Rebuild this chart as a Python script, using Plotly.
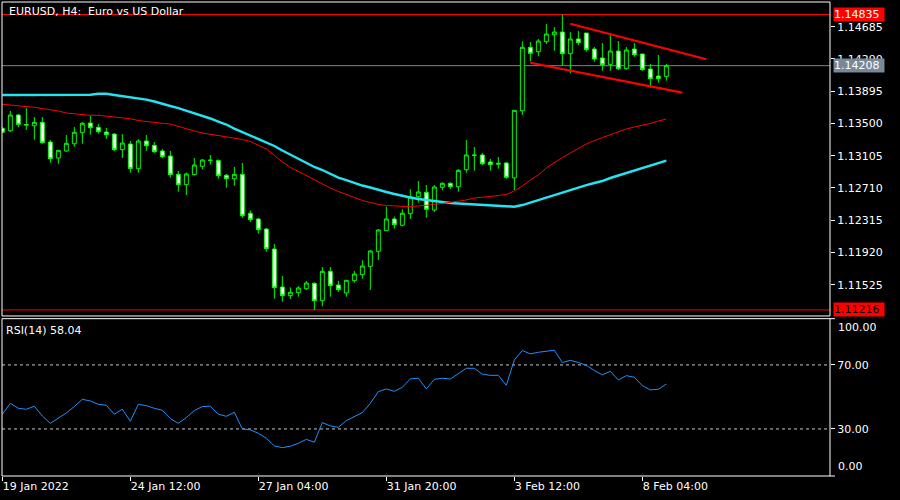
import plotly.graph_objects as go

# ---------------- data ----------------
bar_index = list(range(84))

opens = [1.13441, 1.13411, 1.13604, 1.13487, 1.13472, 1.13514, 1.13273, 1.13077, 1.13163, 1.13252,
         1.13387, 1.13505, 1.13453, 1.13395, 1.13370, 1.13179, 1.13248, 1.12946, 1.13285, 1.13232,
         1.13163, 1.13101, 1.12877, 1.12750, 1.12873, 1.12975, 1.13048, 1.13048, 1.12865, 1.12823,
         1.12877, 1.12400, 1.12330, 1.12207, 1.11962, 1.11497, 1.11391, 1.11428, 1.11476, 1.11542,
         1.11329, 1.11689, 1.11521, 1.11424, 1.11575, 1.11648, 1.11750, 1.11934, 1.12187, 1.12330,
         1.12253, 1.12395, 1.12603, 1.12657, 1.12440, 1.12718, 1.12767, 1.12725, 1.12934, 1.13114,
         1.13114, 1.13028, 1.13012, 1.13016, 1.12834, 1.13656, 1.14433, 1.14379, 1.14501, 1.14587,
         1.14620, 1.14355, 1.14535, 1.14608, 1.14412, 1.14302, 1.14224, 1.14387, 1.14171, 1.14412,
         1.14351, 1.14167, 1.14081, 1.14077]

highs = [1.13457, 1.13653, 1.13616, 1.13689, 1.13579, 1.13579, 1.13297, 1.13175, 1.13358, 1.13457,
         1.13517, 1.13591, 1.13493, 1.13444, 1.13383, 1.13370, 1.13285, 1.13306, 1.13358, 1.13273,
         1.13187, 1.13163, 1.12918, 1.12897, 1.13077, 1.13065, 1.13114, 1.13058, 1.12881, 1.12967,
         1.13016, 1.12436, 1.12342, 1.12220, 1.12024, 1.11632, 1.11493, 1.11509, 1.11571, 1.11554,
         1.11742, 1.11742, 1.11571, 1.11583, 1.11693, 1.11824, 1.11950, 1.12207, 1.12481, 1.12359,
         1.12449, 1.12694, 1.12795, 1.12746, 1.12746, 1.12779, 1.12779, 1.12942, 1.13297, 1.13212,
         1.13138, 1.13065, 1.13089, 1.13024, 1.13661, 1.14506, 1.14498, 1.14535, 1.14718, 1.14681,
         1.14835, 1.14620, 1.14632, 1.14608, 1.14436, 1.14485, 1.14583, 1.14510, 1.14436, 1.14485,
         1.14351, 1.14228, 1.14338, 1.14228]

lows = [1.13383, 1.13395, 1.13453, 1.13420, 1.13301, 1.13252, 1.13019, 1.13007, 1.13154, 1.13215,
        1.13252, 1.13362, 1.13375, 1.13310, 1.13163, 1.13077, 1.12897, 1.12897, 1.13166, 1.13142,
        1.13073, 1.12835, 1.12664, 1.12624, 1.12865, 1.12938, 1.12995, 1.12823, 1.12713, 1.12738,
        1.12346, 1.12293, 1.12150, 1.11929, 1.11354, 1.11317, 1.11350, 1.11378, 1.11460, 1.11216,
        1.11260, 1.11378, 1.11436, 1.11378, 1.11550, 1.11599, 1.11460, 1.11828, 1.12187, 1.12212,
        1.12241, 1.12330, 1.12530, 1.12346, 1.12416, 1.12681, 1.12697, 1.12664, 1.12897, 1.12922,
        1.12991, 1.12922, 1.12946, 1.12823, 1.12685, 1.13604, 1.14261, 1.14323, 1.14473, 1.14391,
        1.14208, 1.14114, 1.14461, 1.14379, 1.14256, 1.14146, 1.14146, 1.14155, 1.14159, 1.14318,
        1.14146, 1.13938, 1.13999, 1.14024]

closes = [1.13392, 1.13603, 1.13489, 1.13481, 1.13514, 1.13264, 1.13068, 1.13171, 1.13257, 1.13392,
          1.13502, 1.13448, 1.13399, 1.13362, 1.13179, 1.13260, 1.12948, 1.13285, 1.13227, 1.13154,
          1.13093, 1.12873, 1.12750, 1.12881, 1.12991, 1.13052, 1.13050, 1.12860, 1.12823, 1.12877,
          1.12370, 1.12322, 1.12199, 1.11966, 1.11488, 1.11391, 1.11432, 1.11485, 1.11546, 1.11329,
          1.11689, 1.11513, 1.11464, 1.11579, 1.11656, 1.11754, 1.11938, 1.12195, 1.12330, 1.12261,
          1.12400, 1.12600, 1.12661, 1.12449, 1.12722, 1.12767, 1.12725, 1.12926, 1.13114, 1.13110,
          1.13007, 1.12995, 1.13003, 1.12840, 1.13661, 1.14433, 1.14359, 1.14510, 1.14596, 1.14620,
          1.14355, 1.14535, 1.14489, 1.14404, 1.14289, 1.14220, 1.14387, 1.14171, 1.14400, 1.14342,
          1.14159, 1.14048, 1.14048, 1.14208]

ma_red = [1.13735, 1.13726, 1.13720, 1.13714, 1.13698, 1.13683, 1.13671, 1.13653, 1.13628, 1.13616,
          1.13607, 1.13600, 1.13600, 1.13591, 1.13583, 1.13571, 1.13558, 1.13536, 1.13522, 1.13514,
          1.13502, 1.13493, 1.13463, 1.13433, 1.13408, 1.13384, 1.13368, 1.13353, 1.13334, 1.13316,
          1.13304, 1.13279, 1.13236, 1.13187, 1.13108, 1.13028, 1.12963, 1.12912, 1.12857, 1.12802,
          1.12752, 1.12710, 1.12667, 1.12630, 1.12593, 1.12557, 1.12532, 1.12508, 1.12495, 1.12489,
          1.12483, 1.12481, 1.12489, 1.12495, 1.12508, 1.12520, 1.12532, 1.12550, 1.12563, 1.12587,
          1.12593, 1.12606, 1.12618, 1.12630, 1.12673, 1.12734, 1.12808, 1.12869, 1.12955, 1.13022,
          1.13083, 1.13138, 1.13194, 1.13248, 1.13291, 1.13328, 1.13365, 1.13402, 1.13433, 1.13457,
          1.13475, 1.13500, 1.13530, 1.13555]

ma_cyan = [1.13849, 1.13849, 1.13849, 1.13849, 1.13849, 1.13849, 1.13849, 1.13849, 1.13849, 1.13849,
           1.13849, 1.13852, 1.13864, 1.13864, 1.13849, 1.13836, 1.13824, 1.13815, 1.13793, 1.13769,
           1.13738, 1.13714, 1.13689, 1.13659, 1.13628, 1.13597, 1.13561, 1.13524, 1.13487, 1.13438,
           1.13395, 1.13353, 1.13310, 1.13267, 1.13224, 1.13169, 1.13120, 1.13065, 1.13016, 1.12967,
           1.12930, 1.12881, 1.12838, 1.12807, 1.12771, 1.12740, 1.12716, 1.12685, 1.12661, 1.12636,
           1.12612, 1.12593, 1.12575, 1.12563, 1.12544, 1.12532, 1.12526, 1.12520, 1.12514, 1.12510,
           1.12501, 1.12495, 1.12489, 1.12481, 1.12481, 1.12501, 1.12532, 1.12569, 1.12599, 1.12630,
           1.12661, 1.12685, 1.12716, 1.12746, 1.12771, 1.12795, 1.12832, 1.12863, 1.12887, 1.12918,
           1.12948, 1.12979, 1.13010, 1.13044]

rsi = [39.2, 46.0, 42.9, 42.3, 44.2, 38.1, 33.5, 36.9, 40.0, 44.0,
       48.5, 47.5, 45.4, 44.8, 39.2, 42.3, 34.8, 45.4, 44.6, 42.9,
       41.7, 36.5, 33.5, 37.1, 41.5, 44.0, 44.2, 39.2, 37.9, 40.4,
       30.0, 29.4, 27.3, 24.2, 19.4, 18.3, 19.2, 21.0, 23.5, 21.7,
       34.0, 31.9, 31.0, 35.2, 37.7, 40.2, 46.0, 53.3, 55.0, 53.5,
       56.0, 61.3, 61.7, 55.0, 61.0, 61.7, 61.2, 64.8, 67.9, 67.9,
       64.2, 63.5, 63.5, 57.3, 73.1, 79.0, 76.9, 77.9, 78.5, 79.2,
       71.5, 72.9, 71.5, 69.8, 66.5, 63.8, 66.0, 60.6, 63.3, 62.3,
       57.1, 54.4, 54.8, 58.04]

channel_upper_index = [71.0, 88.0]
channel_upper_price = [1.14722, 1.14287]
channel_lower_index = [66.0, 85.0]
channel_lower_price = [1.14244, 1.13877]

level_high = 1.14835
level_low = 1.11216
level_last = 1.14208

price_ticks = [1.14685, 1.14290, 1.13895, 1.13500, 1.13105, 1.12710, 1.12315, 1.11920, 1.11525]
rsi_levels = [30, 70]
time_tick_index = [0, 16, 32, 48, 64, 80]
time_tick_labels = ["19 Jan 2022", "24 Jan 12:00", "27 Jan 04:00", "31 Jan 20:00",
                    "3 Feb 12:00", "8 Feb 04:00"]

title_text = "EURUSD, H4:\u00a0 Euro vs US Dollar"
rsi_label = "RSI(14) 58.04"

# ---------------- styling ----------------
FONT = "DejaVu Sans"
WHITE = "#FFFFFF"
LIME = "#00FF00"
CYAN = "#22E4F2"
RED = "#FF0000"
GRAY = "#778899"
RSI_BLUE = "#1E90FF"

x_range = [-0.04, 103.46]
price_range = [1.11142, 1.14988]
rsi_range = [0.6, 98.9]

fig = go.Figure()

fig.add_trace(go.Scatter(x=bar_index, y=ma_cyan, mode="lines",
                         line=dict(color=CYAN, width=2.4), hoverinfo="skip",
                         xaxis="x", yaxis="y"))
fig.add_trace(go.Scatter(x=bar_index, y=ma_red, mode="lines",
                         line=dict(color=RED, width=1), hoverinfo="skip",
                         xaxis="x", yaxis="y"))
fig.add_trace(go.Candlestick(x=bar_index, open=opens, high=highs, low=lows, close=closes,
                             increasing=dict(line=dict(color=LIME, width=1), fillcolor="#000000"),
                             decreasing=dict(line=dict(color=LIME, width=1), fillcolor=WHITE),
                             whiskerwidth=0, xaxis="x", yaxis="y"))
fig.add_trace(go.Scatter(x=channel_upper_index, y=channel_upper_price, mode="lines",
                         line=dict(color=RED, width=2.2), hoverinfo="skip",
                         xaxis="x", yaxis="y"))
fig.add_trace(go.Scatter(x=channel_lower_index, y=channel_lower_price, mode="lines",
                         line=dict(color=RED, width=2.2), hoverinfo="skip",
                         xaxis="x", yaxis="y"))
fig.add_trace(go.Scatter(x=bar_index, y=rsi, mode="lines",
                         line=dict(color=RSI_BLUE, width=1), hoverinfo="skip",
                         xaxis="x2", yaxis="y2"))

shapes = []
for xr, yr in (("x domain", "y domain"), ("x2 domain", "y2 domain")):
    shapes.append(dict(type="rect", xref=xr, yref=yr, x0=0, x1=1, y0=0, y1=1,
                       line=dict(color=WHITE, width=1), layer="above"))
for lvl, col in ((level_high, RED), (level_low, RED), (level_last, GRAY)):
    shapes.append(dict(type="line", xref="x domain", yref="y", x0=0, x1=1, y0=lvl, y1=lvl,
                       line=dict(color=col, width=1), layer="below"))
for lvl in rsi_levels:
    shapes.append(dict(type="line", xref="x2 domain", yref="y2", x0=0, x1=1, y0=lvl, y1=lvl,
                       line=dict(color="#C8C8C8", width=1, dash="3px,3px"), layer="below"))
for yv in (1, 0):
    shapes.append(dict(type="line", xref="x2 domain", yref="y2 domain", x0=1, x1=1.006,
                       y0=yv, y1=yv, line=dict(color=WHITE, width=1)))

annotations = [
    dict(text=title_text, xref="x domain", yref="y domain", x=0.006, y=1, xanchor="left",
         yanchor="top", yshift=-1, showarrow=False, font=dict(family=FONT, size=11, color=WHITE)),
    dict(text=rsi_label, xref="x2 domain", yref="y2 domain", x=0.003, y=1, xanchor="left",
         yanchor="top", yshift=-3, showarrow=False, font=dict(family=FONT, size=11, color=WHITE)),
    dict(text="100.00", xref="x2 domain", yref="y2 domain", x=1.007, y=1, xanchor="left",
         yanchor="top", yshift=0, showarrow=False, font=dict(family=FONT, size=11, color=WHITE)),
    dict(text="0.00", xref="x2 domain", yref="y2 domain", x=1.007, y=0, xanchor="left",
         yanchor="bottom", yshift=1, showarrow=False, font=dict(family=FONT, size=11, color=WHITE)),
]
for lvl, bg, fg in ((level_high, RED, WHITE), (level_last, GRAY, WHITE), (level_low, RED, "#000000")):
    annotations.append(dict(text=f"{lvl:.5f}", xref="x domain", yref="y", x=1.0036, y=lvl,
                            xanchor="left", yanchor="middle", showarrow=False, bgcolor=bg,
                            width=50, height=13, align="left", borderpad=0,
                            font=dict(family=FONT, size=11, color=fg)))

axis_font = dict(family=FONT, size=11, color=WHITE)
fig.update_layout(
    width=900, height=500,
    margin=dict(l=2, r=70, t=2, b=24),
    paper_bgcolor="#000000", plot_bgcolor="#000000",
    showlegend=False,
    xaxis=dict(domain=[0, 1], anchor="y", range=x_range, showticklabels=False, ticks="",
               showgrid=False, zeroline=False, rangeslider=dict(visible=False)),
    yaxis=dict(domain=[0.3376, 1], anchor="x", range=price_range, side="right",
               tickvals=price_ticks, ticktext=[f"{v:.5f}" for v in price_ticks],
               ticks="outside", ticklen=4, tickcolor=WHITE, tickfont=axis_font,
               showgrid=False, zeroline=False),
    xaxis2=dict(domain=[0, 1], anchor="y2", range=x_range, tickvals=time_tick_index,
                ticktext=time_tick_labels, ticks="outside", ticklen=4, tickcolor=WHITE,
                tickfont=axis_font, ticklabelposition="outside right",
                showgrid=False, zeroline=False),
    yaxis2=dict(domain=[0, 0.3319], anchor="x2", range=rsi_range, side="right",
                tickvals=rsi_levels, ticktext=[f"{v:.2f}" for v in rsi_levels],
                ticks="outside", ticklen=4, tickcolor=WHITE, tickfont=axis_font,
                showgrid=False, zeroline=False),
    shapes=shapes,
    annotations=annotations,
)

fig.write_html(
    "out.html",
    config={"displayModeBar": False},
    post_script="document.body.style.margin='0';document.body.style.overflow='hidden';"
                "document.body.style.background='#000';",
)
